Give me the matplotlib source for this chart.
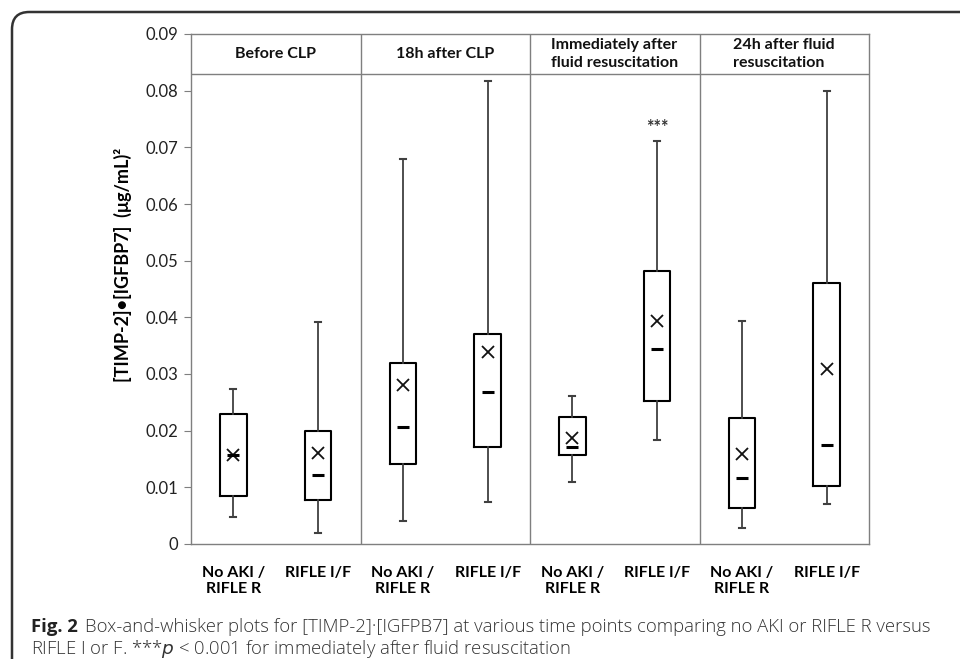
import matplotlib
matplotlib.use("Agg")
import matplotlib.pyplot as plt
from matplotlib.patches import FancyBboxPatch
import numpy as np

# ---- data ----
groups = ["No AKI /\nRIFLE R", "RIFLE I/F"] * 4
panels = ["Before CLP", "18h after CLP", "Immediately after\nfluid resuscitation",
          "24h after fluid\nresuscitation"]
whislo = [0.0048, 0.0020, 0.0040, 0.0075, 0.0110, 0.0184, 0.0028, 0.0071]
q1     = [0.0084, 0.0077, 0.0142, 0.0172, 0.0157, 0.0253, 0.0064, 0.0102]
median = [0.0157, 0.0122, 0.0206, 0.0268, 0.0171, 0.0345, 0.0116, 0.0175]
mean   = [0.0157, 0.0160, 0.0281, 0.0339, 0.0187, 0.0394, 0.0158, 0.0309]
q3     = [0.0230, 0.0200, 0.0320, 0.0370, 0.0225, 0.0481, 0.0222, 0.0460]
whishi = [0.0274, 0.0392, 0.0680, 0.0817, 0.0262, 0.0711, 0.0393, 0.0799]
yticks = [0, 0.01, 0.02, 0.03, 0.04, 0.05, 0.06, 0.07, 0.08, 0.09]
ytick_labels = ["0", "0.01", "0.02", "0.03", "0.04", "0.05", "0.06", "0.07", "0.08", "0.09"]
sig_label = "***"
sig_index = 5

W, H = 960, 659
fig = plt.figure(figsize=(W / 100, H / 100), dpi=100)
fig.patch.set_facecolor("white")

# outer rounded frame (extends past right and bottom edges)
frame = FancyBboxPatch((12 / W, -0.2), 1.2, 1 - 12 / H + 0.2,
                       boxstyle="round,pad=0,rounding_size=0.018",
                       transform=fig.transFigure, fill=False,
                       edgecolor="#333333", linewidth=1.8, mutation_aspect=W / H)
fig.patches.append(frame)

ax = fig.add_axes([191 / W, 1 - 544 / H, (869 - 191) / W, (544 - 34) / H])
spine_col = "#7f7f7f"
for s in ax.spines.values():
    s.set_color(spine_col)
    s.set_linewidth(1.0)

positions = np.arange(len(groups)) + 0.5
stats = []
for i in range(len(groups)):
    stats.append(dict(med=median[i], q1=q1[i], q3=q3[i], whislo=whislo[i],
                      whishi=whishi[i], mean=mean[i], fliers=[], label=groups[i]))

ax.bxp(stats, positions=positions, widths=0.315, showmeans=True, showfliers=False,
       capwidths=0.07,
       boxprops=dict(color="black", linewidth=1.5),
       whiskerprops=dict(color="#404040", linewidth=1.3),
       capprops=dict(color="#404040", linewidth=1.5),
       medianprops=dict(linestyle="none"),
       meanprops=dict(marker="x", markeredgecolor="#111111", markersize=9,
                      markeredgewidth=1.3))
ax.plot(positions, median, linestyle="none", marker="_", markersize=8,
        markeredgewidth=2.2, color="black", zorder=5)

ax.set_xlim(0, 8)
ax.set_ylim(0, 0.09)
ax.set_yticks(yticks)
ax.set_yticklabels(ytick_labels, fontsize=12, family=["Lato", "DejaVu Sans"],
                   color="#222222")
ax.tick_params(axis="y", direction="out", length=5, color=spine_col, pad=4)
ax.set_xticks(positions)
ax.set_xticklabels(groups, fontsize=11.5, fontweight="bold",
                   family=["Lato", "DejaVu Sans"], linespacing=1.2)
ax.tick_params(axis="x", length=0, pad=16)

# panel dividers and header
header_y = 0.083
for d in [2, 4, 6]:
    ax.axvline(d, color=spine_col, linewidth=1.0)
ax.axhline(header_y, color=spine_col, linewidth=1.0)
for k, p in enumerate(panels):
    ax.text(2 * k + 1, (header_y + 0.09) / 2, p, ha="center", va="center",
            multialignment="left", fontsize=11.5, fontweight="bold",
            family=["Lato", "DejaVu Sans"], linespacing=1.35, color="#111111")

ax.text(positions[sig_index], whishi[sig_index] + 0.0024, sig_label, ha="center",
        va="center", fontsize=13, fontweight="bold", color="#333333",
        family=["Lato", "DejaVu Sans"])

fig.text(123 / W, 1 - 265 / H, "[TIMP-2]\u2022[IGFBP7]  (\u03bcg/mL)\u00b2",
         rotation=90, ha="center", va="center", fontsize=13, fontweight="bold",
         family=["Lato", "DejaVu Sans"])

cap_font = ["Open Sans", "DejaVu Sans"]
fig.text(31 / W, 1 - 627 / H, "Fig. 2", ha="left", va="center", fontsize=13.3,
         fontweight="bold", family=cap_font, color="#222222")
fig.text(85 / W, 1 - 627 / H,
         "Box-and-whisker plots for [TIMP-2]\u00b7[IGFPB7] at various time points comparing no AKI or RIFLE R versus",
         ha="left", va="center", fontsize=13.3, fontweight="light", family=cap_font,
         color="#333333")
fig.text(31 / W, 1 - 649 / H,
         "RIFLE I or F. ***$\\it{p}$ < 0.001 for immediately after fluid resuscitation",
         ha="left", va="center", fontsize=13.3, fontweight="light", family=cap_font,
         color="#333333")

fig.savefig("out.png", dpi=100, facecolor="white")
